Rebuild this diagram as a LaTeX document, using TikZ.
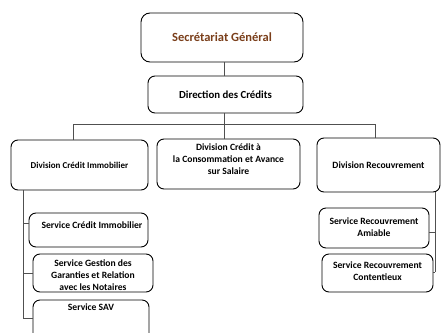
\documentclass[tikz,border=0pt]{standalone}
\usepackage{fontspec}
\setmainfont{Carlito}
\definecolor{sgbrown}{RGB}{122,62,26}
\definecolor{conn}{RGB}{80,80,80}
\begin{document}
\begin{tikzpicture}[x=1pt,y=-1pt,
  box/.style={draw=black,line width=0.9pt,rounded corners=7pt,fill=white,align=center,inner sep=2pt,font=\fontsize{9.6}{12}\selectfont\bfseries},
  txt/.style={align=center,inner sep=0pt,font=\fontsize{9.6}{12}\selectfont\bfseries},
  link/.style={draw=conn,line width=0.8pt}]
\useasboundingbox (0,0) rectangle (441,332);
\clip (0,0) rectangle (441,332);
% top
\node[box,minimum width=162pt,minimum height=49pt,rounded corners=9pt,font=\fontsize{12.5}{14}\selectfont\bfseries,text=sgbrown] (sg) at (222,37.5) {Secrétariat Général};
\node[box,minimum width=155pt,minimum height=37pt,font=\fontsize{10.8}{12}\selectfont\bfseries] (dir) at (225.5,94.5) {Direction des Crédits};
% divisions
\node[box,minimum width=137pt,minimum height=50pt,font=\fontsize{9}{12}\selectfont\bfseries] (divimmo) at (79.5,165) {Division Crédit Immobilier};
\node[box,minimum width=143pt,minimum height=50pt] (divconso) at (228.5,164) {};
\node[txt] (divconsot) at (228.5,159) {Division Crédit à\\la Consommation et Avance\\sur Salaire};
\node[box,minimum width=123pt,minimum height=54pt] (divrec) at (378.5,165) {Division Recouvrement};
% services left
\node[box,minimum width=119pt,minimum height=34pt] (sci) at (88.5,230) {};
\node[txt] (scit) at (92,225) {Service Crédit Immobilier};
\node[box,minimum width=120pt,minimum height=38pt] (sgar) at (93,273) {};
\node[txt] (sgart) at (93,275) {Service Gestion des\\Garanties et Relation\\avec les Notaires};
\node[box,minimum width=116pt,minimum height=45pt] (sav) at (91,322.5) {};
\node[txt] (savt) at (91,307) {Service SAV};
% services right
\node[box,minimum width=110pt,minimum height=40pt] (sra) at (374,228) {};
\node[txt] (srat) at (374,227) {Service Recouvrement\\Amiable};
\node[box,minimum width=111pt,minimum height=38pt] (src) at (377.5,273) {};
\node[txt] (srct) at (377.5,271.5) {Service Recouvrement\\Contentieux};
% connector coordinates
\coordinate (bar) at (224,124);
\coordinate (barL) at (73,124);
\coordinate (barR) at (375,124);
\coordinate (lvTop) at (23,190);
\coordinate (lv1) at (23,223);
\coordinate (lv2) at (23,273);
\coordinate (lv3) at (23,318);
\coordinate (rvTop) at (435,192);
\coordinate (rv1) at (435,232);
\coordinate (rv2) at (435,272);
% connectors
\draw[link] (sg.south -| bar) -- (dir.north -| bar);
\draw[link] (dir.south -| bar) -- (bar);
\draw[link] (barL) -- (barR);
\draw[link] (barL) -- (divimmo.north -| barL);
\draw[link] (bar) -- (divconso.north -| bar);
\draw[link] (barR) -- (divrec.north -| barR);
\draw[link] (lvTop) -- (lv3);
\draw[link] (lv1) -- (sci.west |- lv1);
\draw[link] (lv2) -- (sgar.west |- lv2);
\draw[link] (lv3) -- (sav.west |- lv3);
\draw[link] (rvTop) -- (rv2);
\draw[link] (rv1) -- (sra.east |- rv1);
\draw[link] (rv2) -- (src.east |- rv2);
\end{tikzpicture}
\end{document}
